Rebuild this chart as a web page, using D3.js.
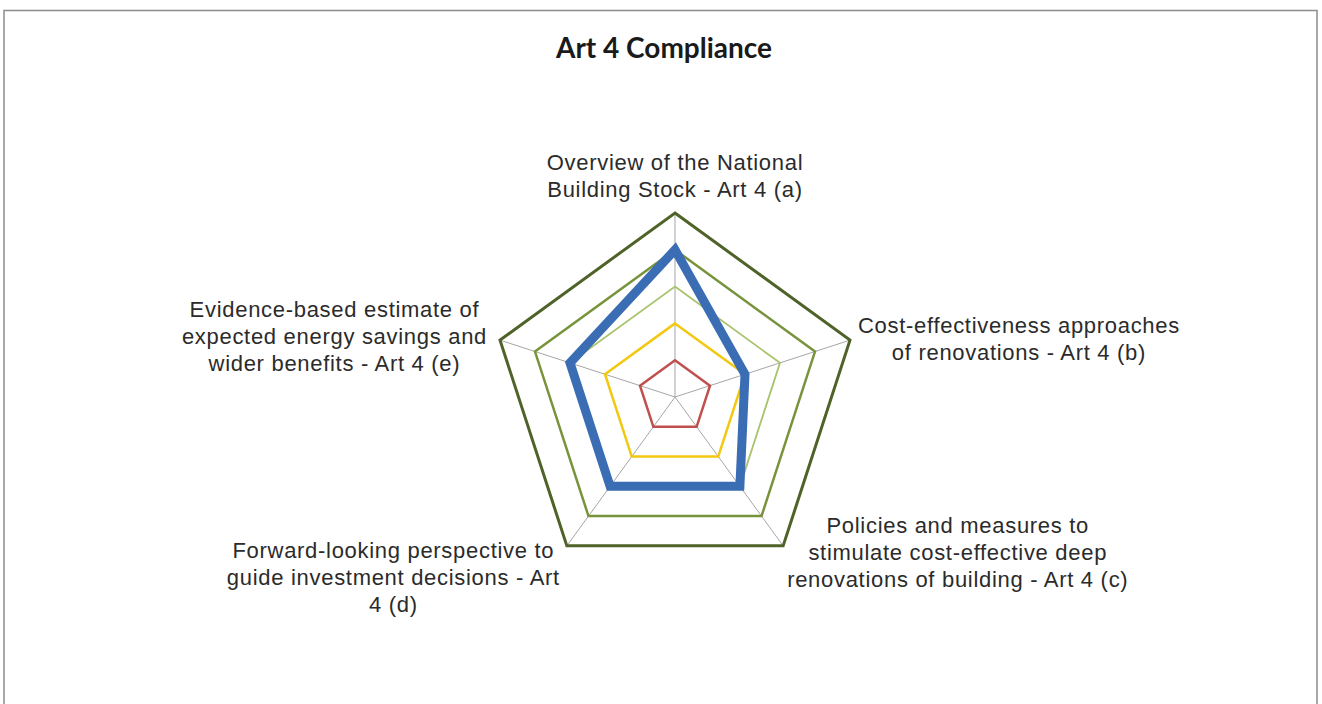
<!DOCTYPE html>
<html>
<head>
<meta charset="utf-8">
<script src="https://cdn.jsdelivr.net/npm/d3@7"></script>
<style>
  html, body { margin: 0; padding: 0; background: #ffffff; }
  svg { display: block; }
</style>
</head>
<body>
<svg id="chart" width="1322" height="704"></svg>
<script>
// Radar axes (Article 4 requirements)
const categories = [
  ["Overview of the National", "Building Stock - Art 4 (a)"],
  ["Cost-effectiveness approaches", "of renovations - Art 4 (b)"],
  ["Policies and measures to", "stimulate cost-effective deep", "renovations of building - Art 4 (c)"],
  ["Forward-looking perspective to", "guide investment decisions - Art", "4 (d)"],
  ["Evidence-based estimate of", "expected energy savings and", "wider benefits - Art 4 (e)"]
];

// Reference bands (score levels 1..5) and the assessed score
const level1 = [1, 1, 1, 1, 1];
const level2 = [2, 2, 2, 2, 2];
const level3 = [3, 3, 3, 3, 3];
const level4 = [4, 4, 4, 4, 4];
const level5 = [5, 5, 5, 5, 5];
const assessed = [4, 2, 3, 3, 3];

const gridTicks = [1, 2, 3, 4, 5];

const svg = d3.select("#chart");

// chart frame
svg.append("rect")
  .attr("x", 4).attr("y", 10.5)
  .attr("width", 1313).attr("height", 720)
  .attr("fill", "#ffffff")
  .attr("stroke", "#8c8c8c").attr("stroke-width", 1.5);

// title
svg.append("text")
  .attr("x", 664).attr("y", 58)
  .attr("text-anchor", "middle")
  .attr("font-family", "Lato, 'Open Sans', sans-serif")
  .attr("font-weight", 700)
  .attr("font-size", 28)
  .attr("fill", "#1a1a1a")
  .text("Art 4 Compliance");

const cx = 675, cy = 397, R = 184;
const r = d3.scaleLinear().domain([0, 5]).range([0, R]);
const n = categories.length;
const angle = d3.scalePoint().domain(d3.range(n + 1)).range([0, 2 * Math.PI]);

const g = svg.append("g").attr("transform", `translate(${cx},${cy})`);

const radial = d3.lineRadial()
  .angle((d, i) => angle(i))
  .radius(d => r(d))
  .curve(d3.curveLinearClosed);

// grid rings
g.selectAll("path.ring").data(gridTicks).join("path")
  .attr("class", "ring")
  .attr("d", t => radial(d3.range(n).map(() => t)))
  .attr("fill", "none")
  .attr("stroke", "#c8c8c8")
  .attr("stroke-width", 1);

// spokes
g.selectAll("line.spoke").data(d3.range(n)).join("line")
  .attr("class", "spoke")
  .attr("x1", 0).attr("y1", 0)
  .attr("x2", i => r(5) * Math.sin(angle(i)))
  .attr("y2", i => -r(5) * Math.cos(angle(i)))
  .attr("stroke", "#a6a6a6")
  .attr("stroke-width", 1);

// series
const series = [
  { values: level1, color: "#c0504d", width: 2.5 },
  { values: level2, color: "#f2c811", width: 2.5 },
  { values: level3, color: "#a9c46c", width: 1.8 },
  { values: level4, color: "#77933c", width: 2.5 },
  { values: level5, color: "#4f6228", width: 3 },
  { values: assessed, color: "#3a6db3", width: 9 }
];

g.selectAll("path.series").data(series).join("path")
  .attr("class", "series")
  .attr("d", s => radial(s.values))
  .attr("fill", "none")
  .attr("stroke", s => s.color)
  .attr("stroke-width", s => s.width)
  .attr("stroke-linejoin", "miter");

// category labels
const lineH = 27;
const fontSize = 22;
// where each label block sits relative to its axis end: side and shift
const labelPlace = [
  { side: "top", gap: 10 },
  { side: "right", gap: 8, dy: -2 },
  { side: "right", gap: 4, dy: 6 },
  { side: "left", gap: 7, dy: 31 },
  { side: "left", gap: 13, dy: -4 }
];

categories.forEach((lines, i) => {
  const a = angle(i);
  const vx = cx + r(5) * Math.sin(a);
  const vy = cy - r(5) * Math.cos(a);
  const t = svg.append("text")
    .attr("font-family", "'Liberation Sans', Arial, sans-serif")
    .attr("font-size", fontSize)
    .attr("letter-spacing", 0.7)
    .attr("fill", "#2b2b2b")
    .attr("text-anchor", "middle");
  const spans = lines.map(l => t.append("tspan").text(l));
  const maxW = d3.max(spans, s => s.node().getComputedTextLength());
  const p = labelPlace[i];
  let bx, by; // block center
  const blockH = lines.length * lineH;
  if (p.side === "top") {
    bx = vx;
    by = vy - p.gap - blockH / 2;
  } else if (p.side === "right") {
    bx = vx + p.gap + maxW / 2;
    by = vy + (p.dy || 0);
  } else {
    bx = vx - p.gap - maxW / 2;
    by = vy + (p.dy || 0);
  }
  spans.forEach((s, k) => {
    s.attr("x", bx)
     .attr("y", by - blockH / 2 + lineH * k + lineH / 2 + fontSize * 0.36);
  });
});
</script>
</body>
</html>
